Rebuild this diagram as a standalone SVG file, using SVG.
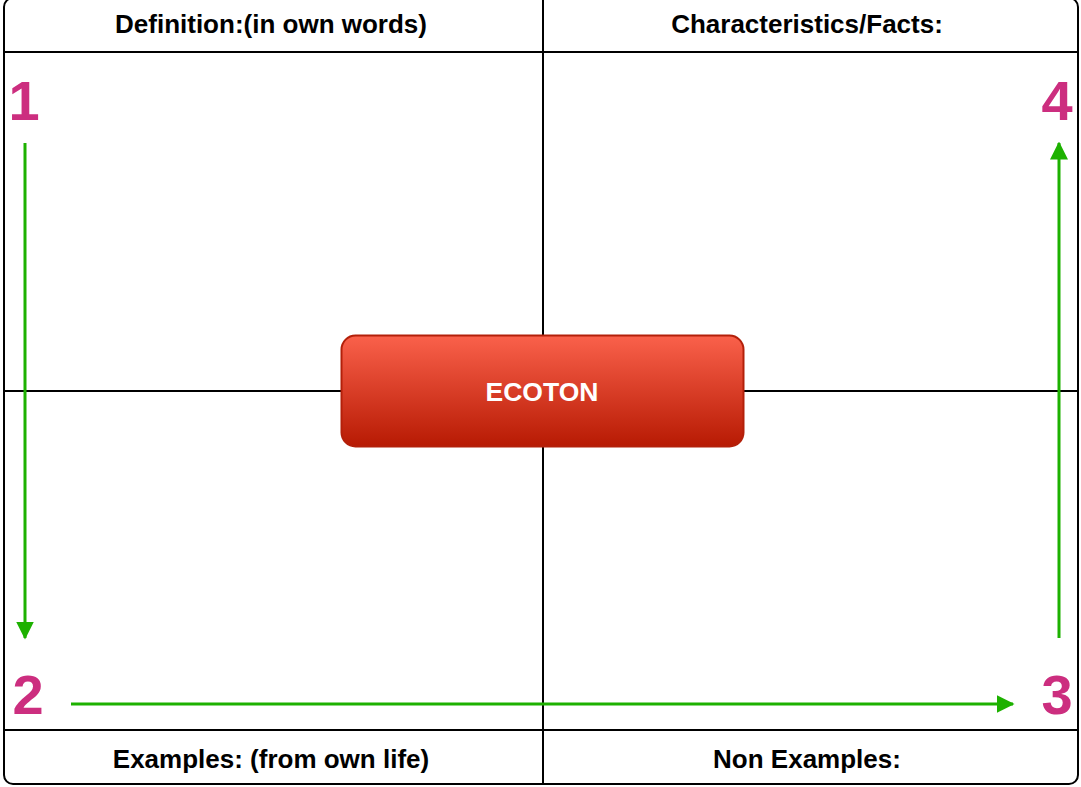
<svg xmlns="http://www.w3.org/2000/svg" width="1081" height="787" viewBox="0 0 1081 787">
<style>
.grid{stroke:#000;stroke-width:2;fill:none}
.hdr{font-family:"Liberation Sans",Arial,sans-serif;font-weight:bold;font-size:26px;fill:#000;text-anchor:middle}
.num{font-family:"Liberation Sans",Arial,sans-serif;font-weight:bold;font-size:56px;fill:#CC2E7F;text-anchor:middle}
.arr{stroke:#1DB100;stroke-width:3;fill:none;marker-end:url(#ah)}
</style>
<defs>
<marker id="ah" markerWidth="6" markerHeight="6" refX="5.5" refY="3" orient="auto" markerUnits="strokeWidth">
<path d="M0,0 L6,3 L0,6 Z" fill="#1DB100"/>
</marker>
<linearGradient id="rg" x1="0" y1="0" x2="0" y2="1">
<stop offset="0" stop-color="#FA614B"/>
<stop offset="1" stop-color="#B71A03"/>
</linearGradient>
</defs>
<rect width="1081" height="787" fill="#fff"/>
<g id="frame">
<rect class="grid" x="4" y="-2" width="1074" height="786" rx="9"/>
<line class="grid" x1="4" y1="52" x2="1078" y2="52"/>
<line class="grid" x1="4" y1="730" x2="1078" y2="730"/>
<line class="grid" x1="543" y1="0" x2="543" y2="784"/>
<line class="grid" x1="4" y1="391" x2="1078" y2="391"/>
</g>
<g id="headers">
<text class="hdr" x="271" y="33">Definition:(in own words)</text>
<text class="hdr" x="807" y="33">Characteristics/Facts:</text>
<text class="hdr" x="271" y="768">Examples: (from own life)</text>
<text class="hdr" x="807" y="768">Non Examples:</text>
</g>
<g id="n1"><text class="num" x="24" y="120">1</text></g>
<g id="n2"><text class="num" x="28" y="714">2</text></g>
<g id="n3"><text class="num" x="1057" y="714">3</text></g>
<g id="n4"><text class="num" x="1057" y="120">4</text></g>
<g id="connectors">
<line class="arr" x1="25" y1="143" x2="25" y2="638"/>
<line class="arr" x1="71" y1="704" x2="1013" y2="704"/>
<line class="arr" x1="1059" y1="638" x2="1059" y2="143"/>
</g>
<g id="ecoton">
<rect x="341.5" y="335.5" width="402" height="111" rx="14" fill="url(#rg)" stroke="#B3200A" stroke-width="2"/>
<text x="542" y="401" font-family="'Liberation Sans',Arial,sans-serif" font-weight="bold" font-size="26.5" fill="#fff" text-anchor="middle">ECOTON</text>
</g>
</svg>
